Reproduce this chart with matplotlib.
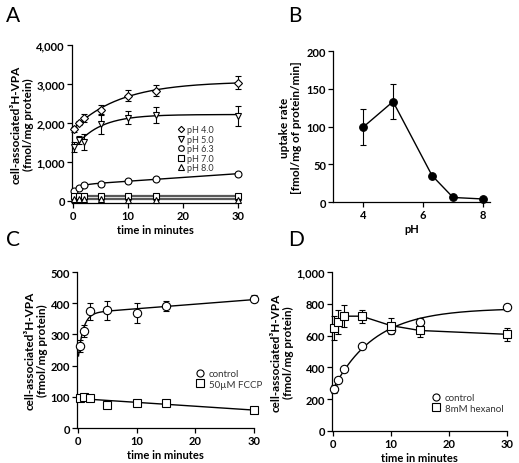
import matplotlib
matplotlib.use("Agg")
import matplotlib.pyplot as plt
import numpy as np

plt.rcParams['font.family'] = ['Lato', 'DejaVu Sans']

# ---- data ----
t_min = [0.25, 1, 2, 5, 10, 15, 30]

# panel A: uptake at different pH
ph4_mean = [1830, 2000, 2130, 2340, 2700, 2830, 3030]
ph4_err = [60, 50, 100, 130, 150, 150, 170]
ph5_mean = [1380, 1550, 1510, 1970, 2130, 2200, 2180]
ph5_err = [120, 100, 200, 250, 170, 200, 260]
ph63_mean = [250, 330, 400, 440, 500, 560, 690]
ph63_err = [20, 20, 20, 20, 20, 20, 25]
ph7_mean = [110, 110, 110, 110, 110, 110, 130]
ph7_err = [15, 15, 15, 15, 15, 15, 15]
ph8_mean = [40, 40, 40, 40, 30, 30, 20]
ph8_err = [10, 10, 10, 10, 10, 10, 10]

# panel B: uptake rate vs pH
ph_values = [4, 5, 6.3, 7, 8]
rate_mean = [99, 133, 35, 6, 4]
rate_err = [24, 23, 2, 1, 1]

# panel C: control vs FCCP
c_ctrl_mean = [263, 311, 375, 377, 368, 391, 415]
c_ctrl_err = [18, 20, 27, 31, 32, 16, 10]
c_fccp_mean = [95, 100, 96, 75, 80, 80, 58]
c_fccp_err = [6, 6, 6, 5, 8, 8, 5]

# panel D: control vs hexanol
d_ctrl_mean = [267, 320, 389, 533, 638, 684, 779]
d_ctrl_err = [25, 15, 15, 12, 15, 25, 20]
d_hex_mean = [648, 684, 722, 722, 663, 632, 608]
d_hex_err = [75, 75, 70, 40, 50, 40, 40]


def fit_curve(t, y, linear_term=True, expo=True, t0=None):
    'least squares fit of a + b(1-exp(-kt)) + c t, grid search on k'
    t = np.asarray(t, float)
    y = np.asarray(y, float)
    best = None
    ks = np.logspace(-2, 1, 300) if expo else [None]
    for k in ks:
        cols = [np.ones_like(t)]
        if expo:
            cols.append(1 - np.exp(-k * t))
        if linear_term:
            cols.append(t)
        A = np.vstack(cols).T
        coef, *_ = np.linalg.lstsq(A, y, rcond=None)
        res = np.sum((A @ coef - y) ** 2)
        if best is None or res < best[0]:
            best = (res, k, coef)
    _, k, coef = best
    start = t[0] if t0 is None else t0
    tt = np.linspace(start, t[-1], 300)
    cols = [np.ones_like(tt)]
    if expo:
        cols.append(1 - np.exp(-k * tt))
    if linear_term:
        cols.append(tt)
    return tt, np.vstack(cols).T @ coef


def style_axis(ax):
    ax.spines['top'].set_visible(False)
    ax.spines['right'].set_visible(False)
    ax.spines['left'].set_linewidth(0.9)
    ax.spines['bottom'].set_linewidth(0.9)
    ax.tick_params(direction='out', length=3.5, width=0.9, pad=1.5)
    for lab in ax.get_xticklabels() + ax.get_yticklabels():
        lab.set_fontweight('bold')
        lab.set_fontsize(8)


def errpoints(ax, x, y, e, marker, ms=5, color='black', label=None, filled=False):
    eb = ax.errorbar(x, y, yerr=e, fmt='none', ecolor=color, elinewidth=0.8, capsize=2.5, capthick=0.8, zorder=2)
    for art in eb.lines[1] + eb.lines[2]:
        art.set_clip_on(False)
    ax.plot(x, y, linestyle='none', marker=marker, markersize=ms,
            markerfacecolor=color if filled else 'white', markeredgecolor=color,
            markeredgewidth=0.8, label=label, zorder=3, clip_on=False)


fig = plt.figure(figsize=(5.19, 4.64), dpi=100)

ylab = 'cell-associated³H-VPA\n(fmol/mg protein)'
ylab_kw = dict(fontsize=8.5, fontweight='bold')
xlab_kw = dict(fontsize=8, fontweight='bold')

# ---- panel A ----
axA = fig.add_axes([0.1387, 0.5603, 0.320, 0.3405])
series_A = [
    (ph4_mean, ph4_err, 'D', 4, 'pH 4.0', 'black', True),
    (ph5_mean, ph5_err, 'v', 5, 'pH 5.0', 'black', True),
    (ph63_mean, ph63_err, 'o', 5, 'pH 6.3', 'black', True),
    (ph7_mean, ph7_err, 's', 5, 'pH 7.0', '0.35', False),
    (ph8_mean, ph8_err, '^', 5, 'pH 8.0', '0.35', False),
]
for mean, err, mk, ms, lab, lc, ex in series_A:
    tt, yy = fit_curve(t_min, mean, linear_term=(lab == 'pH 6.3'), expo=ex)
    axA.plot(tt, yy, color=lc, linewidth=1.0 if lc == 'black' else 1.6, zorder=1, clip_on=False)
    errpoints(axA, t_min, mean, err, mk, ms=ms, label=lab)
axA.set_xlim(-0.2, 30)
axA.set_ylim(-60, 4000)
axA.set_xticks([0, 10, 20, 30])
axA.set_yticks([0, 1000, 2000, 3000, 4000])
axA.set_yticklabels(['0', '1,000', '2,000', '3,000', '4,000'])
axA.set_xlabel('time in minutes', labelpad=2, **xlab_kw)
axA.set_ylabel(ylab, labelpad=2, linespacing=1.1, **ylab_kw)
style_axis(axA)
legA = axA.legend(loc='upper left', bbox_to_anchor=(0.6, 0.52), frameon=False, fontsize=6.5,
                  handletextpad=0.2, labelspacing=0.05, handlelength=1.0, borderpad=0, markerscale=0.8)
for txt in legA.get_texts():
    txt.set_color('0.2')

# ---- panel B ----
axB = fig.add_axes([0.6416, 0.5625, 0.3025, 0.3254])
axB.plot(ph_values, rate_mean, color='black', linewidth=1.0, zorder=1)
errpoints(axB, ph_values, rate_mean, rate_err, 'o', ms=5.5, filled=True)
axB.set_xlim(3, 8.23)
axB.set_ylim(0, 200)
axB.set_xticks([4, 6, 8])
axB.set_yticks([0, 50, 100, 150, 200])
axB.set_xlabel('pH', labelpad=2, **xlab_kw)
axB.set_ylabel('uptake rate\n[fmol/mg of protein/min]', labelpad=3, linespacing=1.1, **ylab_kw)
style_axis(axB)

# ---- panel C ----
axC = fig.add_axes([0.1484, 0.0754, 0.341, 0.336])
tt, yy = fit_curve(t_min, c_ctrl_mean, linear_term=True, expo=True, t0=0.05)
axC.plot(tt, yy, color='black', linewidth=1.0, zorder=1)
tt, yy = fit_curve(t_min, c_fccp_mean, linear_term=True, expo=False)
axC.plot(tt, yy, color='black', linewidth=1.0, zorder=1)
errpoints(axC, t_min, c_ctrl_mean, c_ctrl_err, 'o', ms=6, label='control')
errpoints(axC, t_min, c_fccp_mean, c_fccp_err, 's', ms=6, label='50µM FCCP')
axC.set_xlim(-0.2, 30)
axC.set_ylim(0, 500)
axC.set_xticks([0, 10, 20, 30])
axC.set_yticks([0, 100, 200, 300, 400, 500])
axC.set_xlabel('time in minutes', labelpad=2, **xlab_kw)
axC.set_ylabel(ylab, labelpad=2, linespacing=1.1, **ylab_kw)
style_axis(axC)
legC = axC.legend(loc='upper left', bbox_to_anchor=(0.64, 0.41), frameon=False, fontsize=7,
                  handletextpad=0.4, labelspacing=0.2, handlelength=1.0, borderpad=0, markerscale=0.85)
for txt in legC.get_texts():
    txt.set_color('0.2')

# ---- panel D ----
axD = fig.add_axes([0.6397, 0.069, 0.337, 0.3427])
tt, yy = fit_curve(t_min, d_ctrl_mean, linear_term=False, expo=True)
axD.plot(tt, yy, color='black', linewidth=1.0, zorder=1, clip_on=False)
axD.plot(t_min, d_hex_mean, color='black', linewidth=1.0, zorder=1, clip_on=False)
errpoints(axD, t_min, d_ctrl_mean, d_ctrl_err, 'o', ms=6, label='control')
errpoints(axD, t_min, d_hex_mean, d_hex_err, 's', ms=6, label='8mM hexanol')
axD.set_xlim(-0.1, 30)
axD.set_ylim(0, 1000)
axD.set_xticks([0, 10, 20, 30])
axD.set_yticks([0, 200, 400, 600, 800, 1000])
axD.set_yticklabels(['0', '200', '400', '600', '800', '1,000'])
axD.set_xlabel('time in minutes', labelpad=2, **xlab_kw)
axD.set_ylabel(ylab, labelpad=2, linespacing=1.1, **ylab_kw)
style_axis(axD)
legD = axD.legend(loc='upper left', bbox_to_anchor=(0.54, 0.27), frameon=False, fontsize=7,
                  handletextpad=0.4, labelspacing=0.2, handlelength=1.0, borderpad=0, markerscale=0.85)
for txt in legD.get_texts():
    txt.set_color('0.2')

# panel letters
for x, y, s in [(0.012, 0.945, 'A'), (0.555, 0.945, 'B'), (0.012, 0.462, 'C'), (0.555, 0.462, 'D')]:
    fig.text(x, y, s, fontsize=15, ha='left', va='bottom')

plt.savefig('out.png', dpi=100)
